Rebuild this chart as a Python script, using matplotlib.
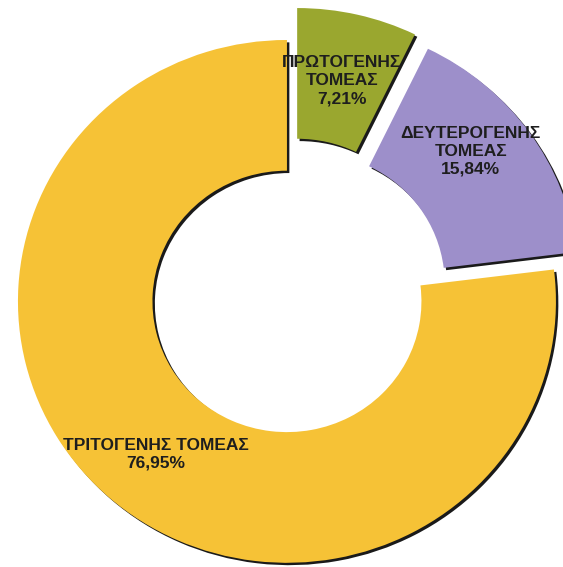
import matplotlib.pyplot as plt

# sector shares (%)
sectors = ["ΠΡΩΤΟΓΕΝΗΣ\nΤΟΜΕΑΣ", "ΔΕΥΤΕΡΟΓΕΝΗΣ\nΤΟΜΕΑΣ", "ΤΡΙΤΟΓΕΝΗΣ ΤΟΜΕΑΣ"]
shares = [7.21, 15.84, 76.95]
share_labels = ["7,21%", "15,84%", "76,95%"]

colors = ["#9aa72f", "#9d8fca", "#f6c236"]
explode = [0.11, 0.09, 0.02]
# where the text blocks sit (data units, pie radius = 1)
label_pos = [(0.19, 0.83), (0.67, 0.56), (-0.50, -0.60)]

plt.rcParams['font.family'] = ['Liberation Sans', 'DejaVu Sans']

fig = plt.figure(figsize=(5.63, 5.67), dpi=100)
ax = fig.add_axes([0, 0, 1, 1])

# dark drop shadow under the ring, shifted right/down
ax.pie(shares, explode=explode, startangle=90, counterclock=False,
       colors=["#1a1a1a"] * 3, center=(0.009, -0.009),
       wedgeprops=dict(width=0.5, linewidth=0))
ax.pie(shares, explode=explode, startangle=90, counterclock=False,
       colors=colors, wedgeprops=dict(width=0.5, linewidth=0))

for name, pct, (x, y) in zip(sectors, share_labels, label_pos):
    ax.text(x, y, name + "\n" + pct, ha="center", va="center",
            fontsize=12.5, fontweight="bold", color="#1e1e1e",
            linespacing=1.25)

ax.set_aspect("auto")
ax.set_xlim(-1.080, 1.013)
ax.set_ylim(-1.031, 1.138)
ax.axis("off")

fig.savefig("out.png", dpi=100, facecolor="white")
